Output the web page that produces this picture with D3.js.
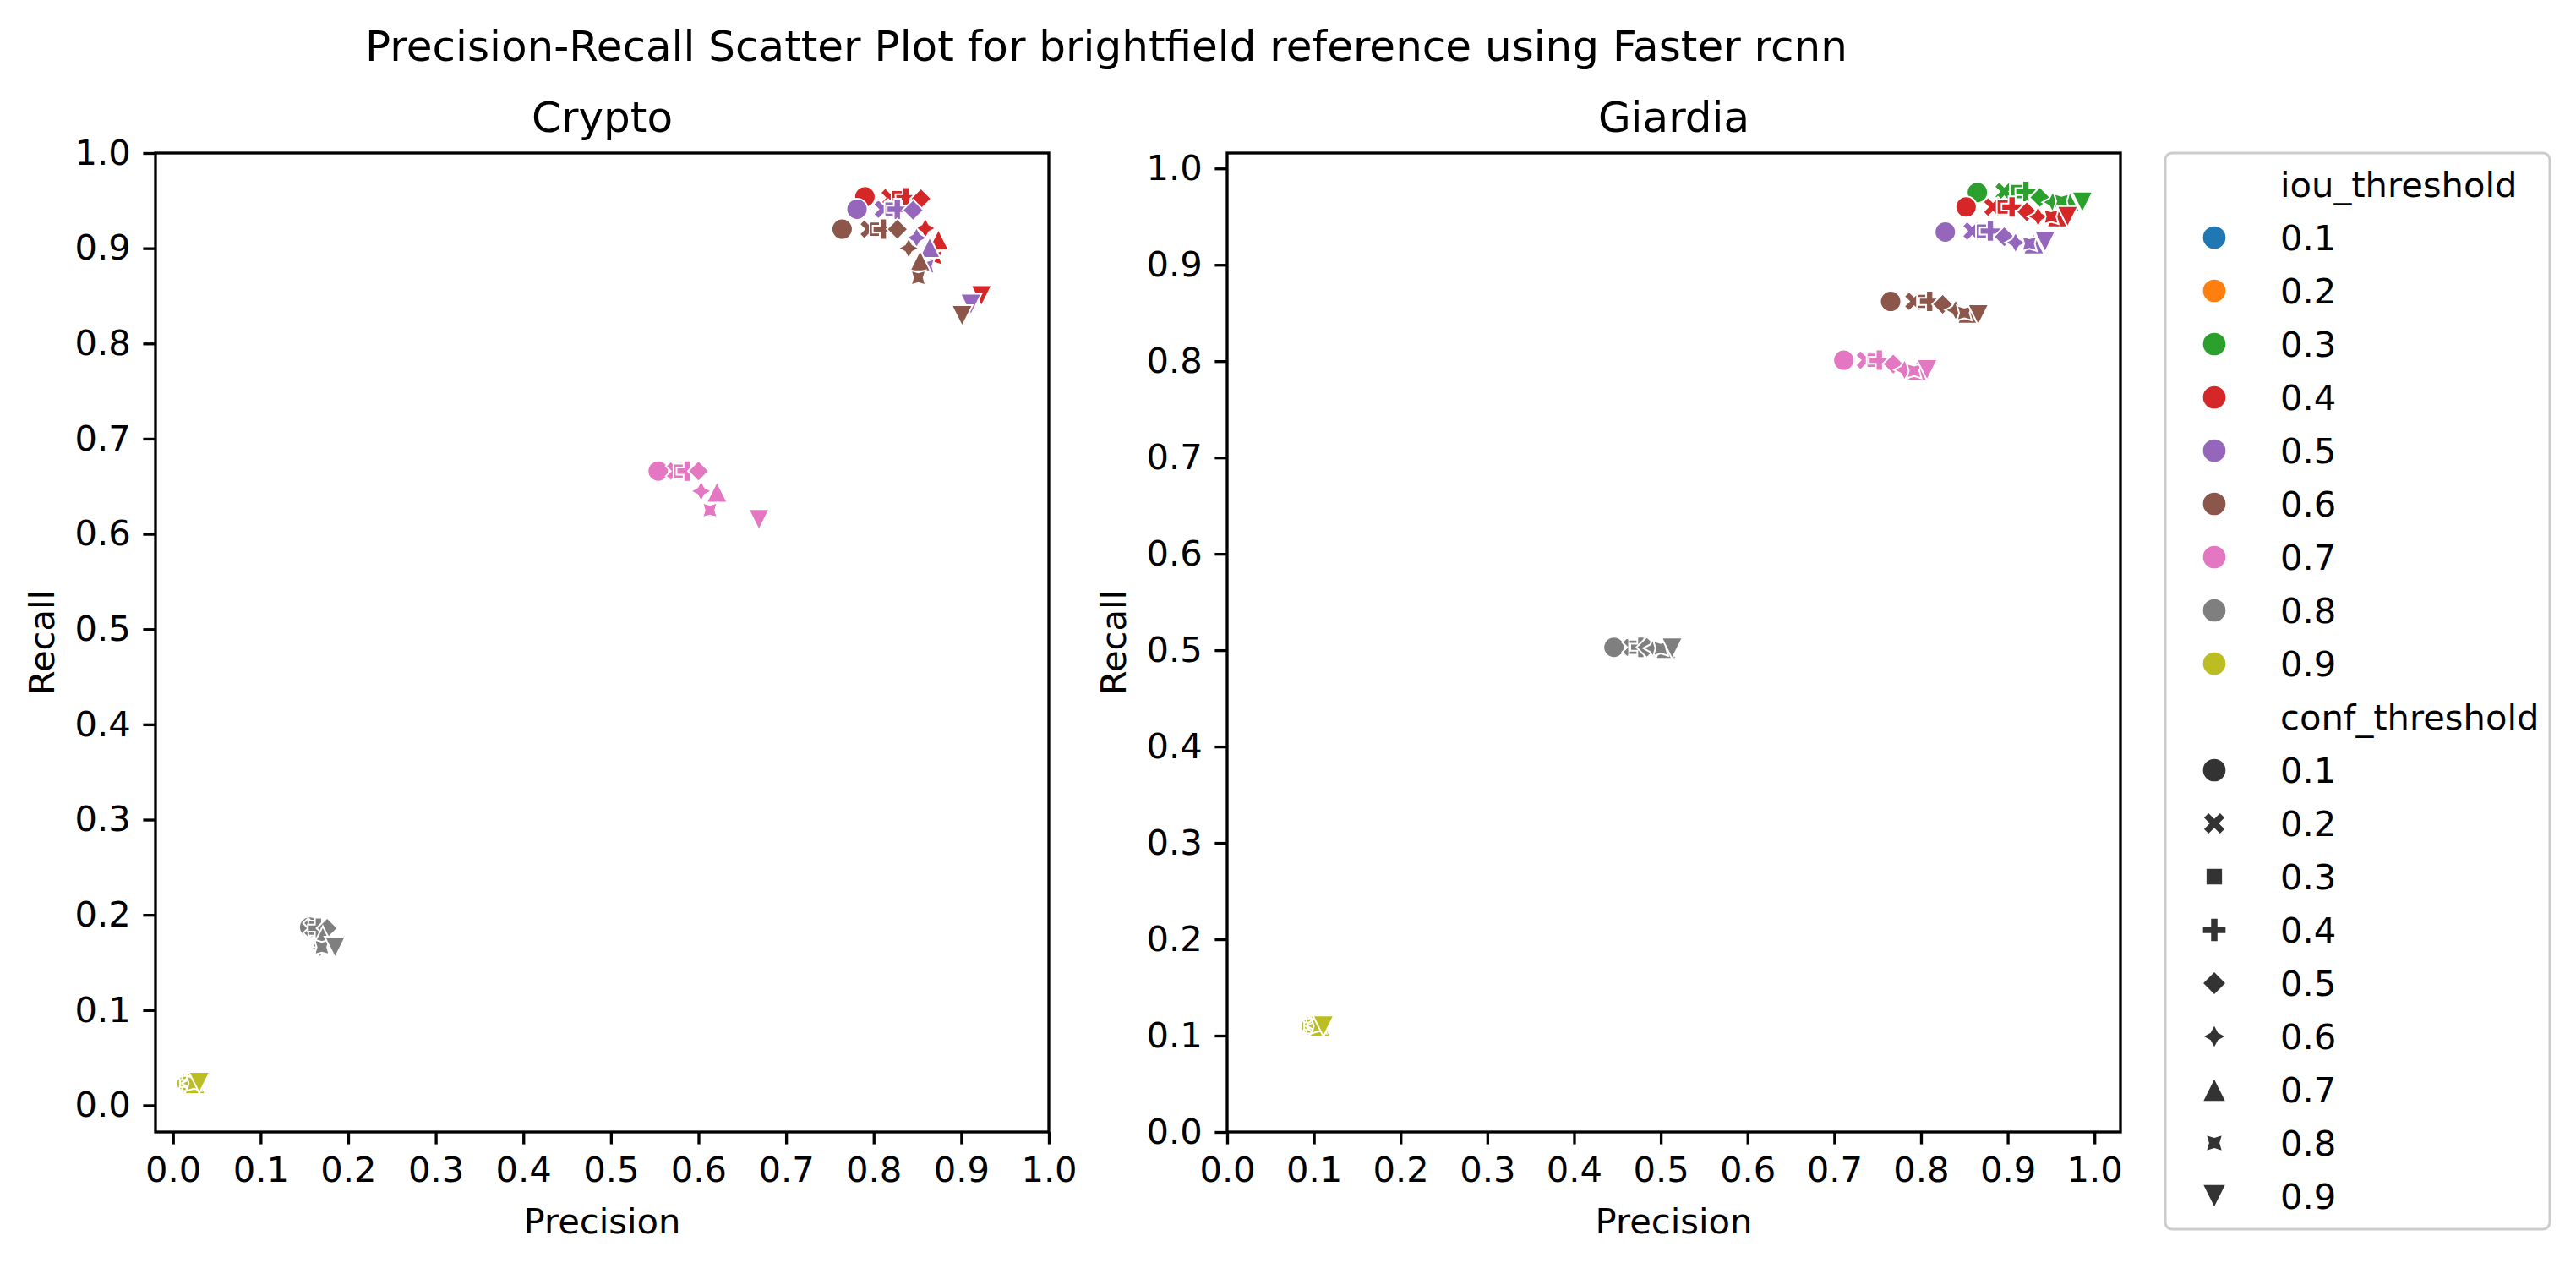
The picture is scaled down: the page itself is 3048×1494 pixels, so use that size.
<!DOCTYPE html>
<html>
<head>
<meta charset="utf-8">
<script src="https://cdn.jsdelivr.net/npm/d3@7"></script>
<style>
  body { margin: 0; background: #fff; }
  text { font-family: "DejaVu Sans", sans-serif; }
</style>
</head>
<body>
<div class="d3Chart"></div>
<script>
//#region data

var iouThresholds = [0.1, 0.2, 0.3, 0.4, 0.5, 0.6, 0.7, 0.8, 0.9];
var confThresholds = [0.1, 0.2, 0.3, 0.4, 0.5, 0.6, 0.7, 0.8, 0.9];
var tickValues = [0, 0.1, 0.2, 0.3, 0.4, 0.5, 0.6, 0.7, 0.8, 0.9, 1.0];

// one row per iou threshold, one column per conf threshold
var cryptoPrecision = [
  [0.790, 0.819, 0.829, 0.837, 0.854, 0.859, 0.874, 0.870, 0.923],
  [0.790, 0.819, 0.829, 0.837, 0.854, 0.859, 0.874, 0.870, 0.923],
  [0.790, 0.819, 0.829, 0.837, 0.854, 0.859, 0.874, 0.870, 0.923],
  [0.790, 0.819, 0.829, 0.837, 0.854, 0.859, 0.874, 0.870, 0.923],
  [0.781, 0.811, 0.821, 0.827, 0.845, 0.849, 0.864, 0.861, 0.911],
  [0.764, 0.795, 0.804, 0.811, 0.827, 0.840, 0.853, 0.851, 0.901],
  [0.554, 0.574, 0.580, 0.587, 0.600, 0.603, 0.621, 0.613, 0.669],
  [0.156, 0.160, 0.163, 0.166, 0.176, 0.168, 0.171, 0.170, 0.185],
  [0.016, 0.018, 0.019, 0.020, 0.022, 0.022, 0.025, 0.024, 0.030],
];
var cryptoRecall = [
  [0.954, 0.953, 0.953, 0.953, 0.952, 0.921, 0.909, 0.890, 0.850],
  [0.954, 0.953, 0.953, 0.953, 0.952, 0.921, 0.909, 0.890, 0.850],
  [0.954, 0.953, 0.953, 0.953, 0.952, 0.921, 0.909, 0.890, 0.850],
  [0.954, 0.953, 0.953, 0.953, 0.952, 0.921, 0.909, 0.890, 0.850],
  [0.941, 0.941, 0.941, 0.941, 0.940, 0.911, 0.901, 0.881, 0.841],
  [0.920, 0.920, 0.920, 0.920, 0.920, 0.900, 0.887, 0.869, 0.829],
  [0.666, 0.666, 0.666, 0.666, 0.666, 0.645, 0.644, 0.625, 0.615],
  [0.187, 0.186, 0.186, 0.186, 0.186, 0.166, 0.177, 0.166, 0.166],
  [0.023, 0.023, 0.023, 0.023, 0.023, 0.023, 0.023, 0.023, 0.024],
];

var giardiaPrecision = [
  [0.865, 0.896, 0.911, 0.921, 0.937, 0.952, 0.971, 0.962, 0.986],
  [0.865, 0.896, 0.911, 0.921, 0.937, 0.952, 0.971, 0.962, 0.986],
  [0.865, 0.896, 0.911, 0.921, 0.937, 0.952, 0.971, 0.962, 0.986],
  [0.852, 0.883, 0.896, 0.905, 0.922, 0.935, 0.957, 0.950, 0.969],
  [0.828, 0.859, 0.872, 0.880, 0.896, 0.909, 0.930, 0.925, 0.943],
  [0.765, 0.792, 0.804, 0.810, 0.825, 0.840, 0.854, 0.850, 0.866],
  [0.711, 0.736, 0.746, 0.752, 0.768, 0.781, 0.796, 0.792, 0.807],
  [0.446, 0.467, 0.472, 0.477, 0.484, 0.492, 0.506, 0.500, 0.513],
  [0.097, 0.099, 0.100, 0.101, 0.103, 0.104, 0.107, 0.106, 0.111],
];
var giardiaRecall = [
  [0.975, 0.976, 0.976, 0.976, 0.970, 0.965, 0.966, 0.966, 0.965],
  [0.975, 0.976, 0.976, 0.976, 0.970, 0.965, 0.966, 0.966, 0.965],
  [0.975, 0.976, 0.976, 0.976, 0.970, 0.965, 0.966, 0.966, 0.965],
  [0.960, 0.960, 0.960, 0.960, 0.955, 0.950, 0.950, 0.950, 0.950],
  [0.934, 0.935, 0.935, 0.935, 0.929, 0.923, 0.922, 0.922, 0.924],
  [0.862, 0.862, 0.862, 0.862, 0.859, 0.853, 0.850, 0.850, 0.848],
  [0.801, 0.801, 0.801, 0.801, 0.797, 0.791, 0.791, 0.790, 0.791],
  [0.503, 0.503, 0.503, 0.503, 0.503, 0.502, 0.502, 0.502, 0.502],
  [0.110, 0.110, 0.110, 0.110, 0.110, 0.110, 0.110, 0.110, 0.110],
];

//#endregion

//#region canvas

var width = 3048;
var height = 1494;
var svg = d3
  .select(".d3Chart")
  .append("svg")
  .attr("width", width)
  .attr("height", height)
  .style("display", "block")
  .style("background-color", "#ffffff");

var top0 = 181;
var bottom0 = 1339;
var axW = 1057;
var fontSize = 41.67;

var colorScale = d3
  .scaleOrdinal()
  .domain(iouThresholds)
  .range(["#1f77b4", "#ff7f0e", "#2ca02c", "#d62728", "#9467bd", "#8c564b", "#e377c2", "#7f7f7f", "#bcbd22"]);

svg
  .append("text")
  .attr("x", 1309)
  .attr("y", 72)
  .attr("text-anchor", "middle")
  .style("font-size", "50px")
  .text("Precision-Recall Scatter Plot for brightfield reference using Faster rcnn");

//#endregion

//#region markers (matplotlib / seaborn style)

var S = 25;
function poly(pts) {
  return "M" + pts.map((p) => p[0].toFixed(2) + "," + p[1].toFixed(2)).join("L") + "Z";
}
function rotate(pts, deg) {
  var a = (deg * Math.PI) / 180;
  return pts.map((p) => [p[0] * Math.cos(a) - p[1] * Math.sin(a), p[0] * Math.sin(a) + p[1] * Math.cos(a)]);
}
function regular(n, r, startDeg) {
  var pts = [];
  for (var i = 0; i < n; i++) {
    var a = ((startDeg + (360 * i) / n) * Math.PI) / 180;
    pts.push([r * Math.cos(a), -r * Math.sin(a)]);
  }
  return pts;
}
function star4(rotDeg) {
  var pts = [];
  for (var i = 0; i < 8; i++) {
    var r = i % 2 === 0 ? S / 2 : S / 4;
    var a = ((90 + rotDeg + 45 * i) * Math.PI) / 180;
    pts.push([r * Math.cos(a), -r * Math.sin(a)]);
  }
  return pts;
}
var plusPts = [[-1, -3], [1, -3], [1, -1], [3, -1], [3, 1], [1, 1], [1, 3], [-1, 3], [-1, 1], [-3, 1], [-3, -1], [-1, -1]].map(
  (p) => [(p[0] * S) / 6, (p[1] * S) / 6]
);
var markerPaths = [
  d3.arc()({ innerRadius: 0, outerRadius: S / 2, startAngle: 0, endAngle: 2 * Math.PI }),
  poly(rotate(plusPts, 45)),
  poly(regular(4, S / 2, 135)),
  poly(plusPts),
  poly(regular(4, S / 2, 90)),
  poly(star4(0)),
  poly([[0, -S / 2], [-S / 2, S / 2], [S / 2, S / 2]]),
  poly(star4(45)),
  poly([[0, S / 2], [-S / 2, -S / 2], [S / 2, -S / 2]]),
];

//#endregion

//#region panels

function drawPanel(left, title, xDomain, yDomain, precision, recall, id) {
  var x = d3.scaleLinear().domain(xDomain).range([left, left + axW]);
  var y = d3.scaleLinear().domain(yDomain).range([bottom0, top0]);

  var g = svg.append("g");

  svg
    .append("clipPath")
    .attr("id", "clip-" + id)
    .append("rect")
    .attr("x", left)
    .attr("y", top0)
    .attr("width", axW)
    .attr("height", bottom0 - top0);

  // points: iou outer loop, conf inner loop (later draws on top)
  var points = [];
  iouThresholds.forEach((iou, i) => {
    confThresholds.forEach((conf, j) => {
      points.push({ iou: iou, conf: j, p: precision[i][j], r: recall[i][j] });
    });
  });

  g.append("g")
    .attr("clip-path", "url(#clip-" + id + ")")
    .selectAll("path")
    .data(points)
    .enter()
    .append("path")
    .attr("d", (d) => markerPaths[d.conf])
    .attr("transform", (d) => "translate(" + x(d.p) + "," + y(d.r) + ")")
    .attr("fill", (d) => colorScale(d.iou))
    .attr("stroke", "#ffffff")
    .attr("stroke-width", 2);

  var xAxis = g
    .append("g")
    .attr("transform", "translate(0," + bottom0 + ")")
    .call(d3.axisBottom(x).tickValues(tickValues).tickFormat(d3.format(".1f")).tickSize(14.6).tickPadding(14.6));
  var yAxis = g
    .append("g")
    .attr("transform", "translate(" + left + ",0)")
    .call(d3.axisLeft(y).tickValues(tickValues).tickFormat(d3.format(".1f")).tickSize(14.6).tickPadding(14.6));
  [xAxis, yAxis].forEach((a) => {
    a.select(".domain").remove();
    a.selectAll("line").attr("stroke", "#000").attr("stroke-width", 3.33);
    a.selectAll("text")
      .attr("fill", "#000")
      .style("font-size", fontSize + "px")
      .style("font-family", "DejaVu Sans");
  });

  // spines
  g.append("rect")
    .attr("x", left)
    .attr("y", top0)
    .attr("width", axW)
    .attr("height", bottom0 - top0)
    .attr("fill", "none")
    .attr("stroke", "#000")
    .attr("stroke-width", 3.33);

  g.append("text")
    .attr("x", left + axW / 2)
    .attr("y", 156)
    .attr("text-anchor", "middle")
    .style("font-size", "50px")
    .text(title);

  g.append("text")
    .attr("x", left + axW / 2)
    .attr("y", 1459)
    .attr("text-anchor", "middle")
    .style("font-size", fontSize + "px")
    .text("Precision");

  g.append("text")
    .attr("transform", "translate(" + (left - 120) + "," + (top0 + bottom0) / 2 + ") rotate(-90)")
    .attr("text-anchor", "middle")
    .style("font-size", fontSize + "px")
    .text("Recall");
}

drawPanel(184, "Crypto", [-0.02, 1.0], [-0.028, 1.0], cryptoPrecision, cryptoRecall, "crypto");
drawPanel(1452, "Giardia", [0, 1.03], [0, 1.016], giardiaPrecision, giardiaRecall, "giardia");

//#endregion

//#region legend

var legendX = 2562;
var legend = svg.append("g");
legend
  .append("rect")
  .attr("x", legendX)
  .attr("y", top0)
  .attr("width", 455)
  .attr("height", 1273)
  .attr("rx", 8)
  .attr("fill", "#ffffff")
  .attr("fill-opacity", 0.8)
  .attr("stroke", "#cccccc")
  .attr("stroke-width", 3);

var rows = [{ label: "iou_threshold" }]
  .concat(iouThresholds.map((v) => ({ label: String(v), color: colorScale(v), marker: 0 })))
  .concat([{ label: "conf_threshold" }])
  .concat(confThresholds.map((v, j) => ({ label: String(v), color: "#333333", marker: j })));

var rowH = 63;
var legendRows = legend
  .selectAll(".legend-row")
  .data(rows)
  .enter()
  .append("g")
  .attr("class", "legend-row")
  .attr("transform", (d, i) => "translate(0," + (218 + i * rowH) + ")");

legendRows
  .filter((d) => d.color)
  .append("path")
  .attr("d", (d) => markerPaths[d.marker])
  .attr("transform", "translate(" + (legendX + 58) + ",0) scale(1.15)")
  .attr("fill", (d) => d.color)
  .attr("stroke", "#ffffff")
  .attr("stroke-width", 1.8);

legendRows
  .append("text")
  .attr("x", legendX + 136)
  .attr("y", 15)
  .style("font-size", fontSize + "px")
  .text((d) => d.label);

//#endregion
</script>
</body>
</html>
